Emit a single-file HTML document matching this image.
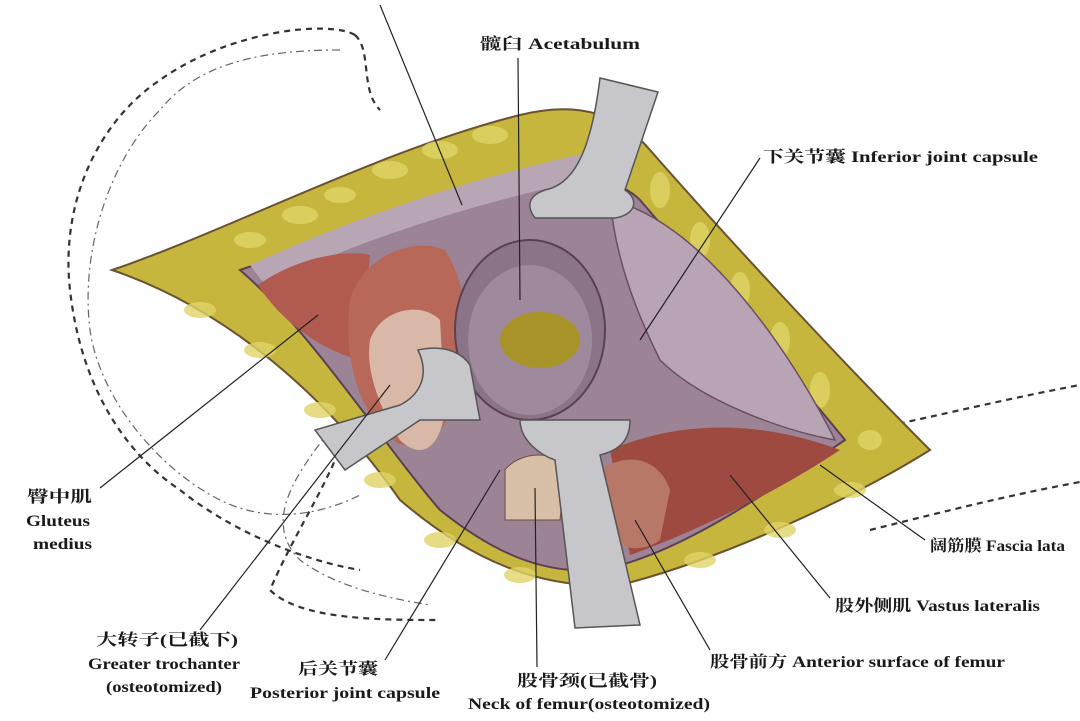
<!DOCTYPE html>
<html><head><meta charset="utf-8"><style>
body{margin:0;background:#fff;}
svg{display:block}
text{font-family:"Liberation Serif","Noto Serif CJK SC",serif;fill:#1a1a1a;font-size:16px;font-weight:bold;}
</style></head><body>
<svg width="1080" height="721" viewBox="0 0 1080 721">
<rect width="1080" height="721" fill="#fefefe"/>
<g fill="none" stroke="#333" stroke-width="2.2" stroke-dasharray="6,5">
<path d="M355,35 C330,20 230,30 160,80 C100,120 60,200 70,290 C80,380 120,450 180,490 C230,530 300,560 360,570"/>
<path d="M355,35 C372,50 360,90 380,110"/>
<path d="M355,400 C340,470 300,520 270,590 C300,620 380,620 440,620"/>
<path d="M845,435 C920,420 1000,400 1080,385"/>
<path d="M870,530 C950,510 1010,495 1080,482"/>
</g>
<g fill="none" stroke="#666" stroke-width="1.2" stroke-dasharray="8,4,2,4">
<path d="M340,50 C270,50 200,60 160,110 C110,160 80,250 90,330 C100,400 160,470 220,500 C260,520 310,520 360,495"/>
<path d="M330,430 C300,470 260,520 300,560 C340,590 400,600 430,605"/>
</g>
<path d="M112,270 C230,230 380,150 520,115 C580,100 620,115 650,150 C720,230 840,360 930,450 C850,500 720,560 620,585 C540,590 470,560 400,500 C330,400 230,310 112,270 Z" fill="#c6b63e" stroke="#6a5230" stroke-width="2"/>
<g fill="#e0d468" opacity="0.8">
<ellipse cx="300" cy="215" rx="18" ry="9"/><ellipse cx="340" cy="195" rx="16" ry="8"/><ellipse cx="390" cy="170" rx="18" ry="9"/>
<ellipse cx="440" cy="150" rx="18" ry="9"/><ellipse cx="490" cy="135" rx="18" ry="9"/><ellipse cx="250" cy="240" rx="16" ry="8"/>
<ellipse cx="660" cy="190" rx="10" ry="18"/><ellipse cx="700" cy="240" rx="10" ry="18"/><ellipse cx="740" cy="290" rx="10" ry="18"/>
<ellipse cx="780" cy="340" rx="10" ry="18"/><ellipse cx="820" cy="390" rx="10" ry="18"/><ellipse cx="870" cy="440" rx="12" ry="10"/>
<ellipse cx="200" cy="310" rx="16" ry="8"/><ellipse cx="260" cy="350" rx="16" ry="8"/><ellipse cx="320" cy="410" rx="16" ry="8"/>
<ellipse cx="380" cy="480" rx="16" ry="8"/><ellipse cx="440" cy="540" rx="16" ry="8"/><ellipse cx="520" cy="575" rx="16" ry="8"/>
<ellipse cx="700" cy="560" rx="16" ry="8"/><ellipse cx="780" cy="530" rx="16" ry="8"/><ellipse cx="850" cy="490" rx="16" ry="8"/>
</g>
<path d="M240,270 C330,240 440,200 530,185 C590,175 620,180 640,200 C700,270 780,360 845,440 C770,490 680,555 600,570 C540,575 490,550 440,510 C380,440 310,330 240,270 Z" fill="#9c8496" stroke="#5a4050" stroke-width="2"/>
<path d="M250,265 C350,220 460,180 600,150 L610,175 C480,200 360,240 265,285 Z" fill="#b9a6b4"/>
<path d="M610,200 C700,220 790,350 835,440 C780,430 700,400 660,360 C630,300 615,250 610,200 Z" fill="#b8a4b4" stroke="#6a5060" stroke-width="1.5"/>
<path d="M258,285 C300,255 350,250 370,255 L360,360 C320,350 280,320 258,285 Z" fill="#b05a50"/>
<path d="M350,300 C360,260 410,235 445,250 C470,290 470,340 460,390 C440,450 410,460 380,430 C350,390 345,340 350,300 Z" fill="#b86858"/>
<path d="M370,340 C380,310 420,300 440,320 L445,410 C440,450 420,460 400,440 C380,410 365,370 370,340 Z" fill="#d9b8a8"/>
<ellipse cx="530" cy="330" rx="75" ry="90" fill="#8c7488" stroke="#5a4050" stroke-width="2"/>
<ellipse cx="530" cy="340" rx="62" ry="75" fill="#9e8a9c"/>
<ellipse cx="540" cy="340" rx="40" ry="28" fill="#a89428"/>
<path d="M610,450 C680,420 760,420 840,450 C780,490 700,530 630,555 Z" fill="#9e4a40"/>
<path d="M600,470 C630,450 660,460 670,490 L660,540 C640,555 610,550 600,520 Z" fill="#b87868"/>
<path d="M505,470 C520,450 560,450 565,470 L560,520 L505,520 Z" fill="#d8c0a8" stroke="#704a40"/>
<g fill="#c7c7cb" stroke="#555" stroke-width="1.5">
<path d="M600,78 L658,92 L625,190 C640,200 635,215 615,218 L535,218 C525,205 530,195 545,190 C570,185 590,160 600,78 Z"/>
<path d="M418,350 C440,345 460,350 470,365 L480,420 L420,420 L345,470 L315,430 L400,405 C420,395 430,375 418,350 Z"/>
<path d="M520,420 L630,420 C630,440 620,450 600,455 L640,625 L575,628 L555,460 C540,455 520,440 520,420 Z"/>
</g>
<g stroke="#222" stroke-width="1.2" fill="none">
<line x1="380" y1="5" x2="462" y2="205"/>
<line x1="518" y1="58" x2="520" y2="300"/>
<line x1="760" y1="158" x2="640" y2="340"/>
<line x1="100" y1="488" x2="318" y2="315"/>
<line x1="200" y1="630" x2="390" y2="385"/>
<line x1="385" y1="660" x2="500" y2="470"/>
<line x1="537" y1="667" x2="535" y2="488"/>
<line x1="710" y1="650" x2="635" y2="520"/>
<line x1="830" y1="598" x2="730" y2="475"/>
<line x1="925" y1="540" x2="820" y2="465"/>
</g>
<g>
<text x="480" y="49" textLength="160" lengthAdjust="spacingAndGlyphs">髋臼 Acetabulum</text>
<text x="763" y="162" textLength="275" lengthAdjust="spacingAndGlyphs">下关节囊 Inferior joint capsule</text>
<text x="27" y="502" textLength="65" lengthAdjust="spacingAndGlyphs">臀中肌</text>
<text x="26" y="526" textLength="64" lengthAdjust="spacingAndGlyphs">Gluteus</text>
<text x="33" y="549" textLength="59" lengthAdjust="spacingAndGlyphs">medius</text>
<text x="96" y="645" textLength="142" lengthAdjust="spacingAndGlyphs">大转子(已截下)</text>
<text x="88" y="669" textLength="152" lengthAdjust="spacingAndGlyphs">Greater trochanter</text>
<text x="106" y="692" textLength="116" lengthAdjust="spacingAndGlyphs">(osteotomized)</text>
<text x="298" y="674" textLength="80" lengthAdjust="spacingAndGlyphs">后关节囊</text>
<text x="250" y="698" textLength="190" lengthAdjust="spacingAndGlyphs">Posterior joint capsule</text>
<text x="517" y="686" textLength="140" lengthAdjust="spacingAndGlyphs">股骨颈(已截骨)</text>
<text x="468" y="709" textLength="242" lengthAdjust="spacingAndGlyphs">Neck of femur(osteotomized)</text>
<text x="710" y="667" textLength="295" lengthAdjust="spacingAndGlyphs">股骨前方 Anterior surface of femur</text>
<text x="835" y="611" textLength="205" lengthAdjust="spacingAndGlyphs">股外侧肌 Vastus lateralis</text>
<text x="930" y="551" textLength="135" lengthAdjust="spacingAndGlyphs">阔筋膜 Fascia lata</text>
</g>
</svg>
</body></html>
